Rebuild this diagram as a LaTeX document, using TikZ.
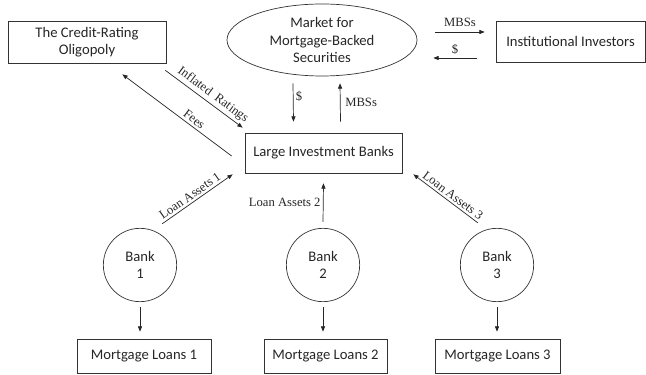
\documentclass[tikz,border=0pt]{standalone}
\usepackage{fontspec}
\setmainfont{Liberation Serif}
\newfontfamily\boxfont{Carlito}
\usetikzlibrary{shapes.geometric,arrows.meta}

\begin{document}
\begin{tikzpicture}[x=0.03cm, y=-0.03cm,
    every node/.style={text=black!85},
    box/.style={draw=black!80, line width=0.6pt, align=center,
        font=\boxfont\fontsize{12.5}{15}\selectfont, inner sep=0pt},
    arr/.style={-{Triangle[length=4.5pt,width=3.5pt]}, draw=black!85, line width=0.6pt},
    lbl/.style={font=\fontsize{10.8}{12}\selectfont, inner sep=2pt}]

    \useasboundingbox (0,0) rectangle (646,375);

    \node[box, minimum width=4.74cm, minimum height=1.26cm] (cra) at (87,42)
        {The Credit-Rating\\Oligopoly};

    \node[box, ellipse, minimum width=5.7cm, minimum height=2.16cm] (mkt) at (322,40)
        {Market for\\Mortgage-Backed\\Securities};

    \node[box, minimum width=4.47cm, minimum height=1.23cm] (inv) at (570.5,41.5)
        {Institutional Investors};

    \node[box, minimum width=4.71cm, minimum height=1.2cm] (lib) at (323.5,153)
        {Large Investment Banks};

    \node[box, circle, minimum size=2.2cm] (b1) at (140,265)
        {Bank\\1};

    \node[box, circle, minimum size=2.2cm] (b2) at (323,265)
        {Bank\\2};

    \node[box, circle, minimum size=2.2cm] (b3) at (497,265)
        {Bank\\3};

    \node[box, minimum width=4.02cm, minimum height=1.02cm] (ml1) at (144,356)
        {Mortgage Loans 1};

    \node[box, minimum width=3.69cm, minimum height=1.02cm] (ml2) at (325.5,356)
        {Mortgage Loans 2};

    \node[box, minimum width=3.75cm, minimum height=1.02cm] (ml3) at (497.5,356)
        {Mortgage Loans 3};

    \draw[arr] ([shift={(-1,7)}]cra.south east) -- ([shift={(-2,-5)}]lib.north west)
        node[lbl, pos=0.55, sloped, above] {Inflated\ \ Ratings};
    \draw[arr] ([shift={(-13,3)}]lib.west) -- ([shift={(-44,11)}]cra.south east)
        node[lbl, pos=0.38, sloped, above] {Fees};

    \draw[arr] ([shift={(-29,7)}]mkt.south) -- ([shift={(-30,-11)}]lib.north)
        node[lbl, pos=0.35, right] {\$};
    \draw[arr] ([shift={(17,-11)}]lib.north) -- ([shift={(18,7)}]mkt.south)
        node[lbl, midway, right, xshift=2pt] {MBSs};

    \draw[arr] ([shift={(18,-8)}]mkt.east) -- ([shift={(-11,-9.5)}]inv.west)
        node[lbl, midway, above, yshift=2pt] {MBSs};
    \draw[arr] ([shift={(-19,16.5)}]inv.west) -- ([shift={(16,18)}]mkt.east)
        node[lbl, midway, above, yshift=1pt] {\$};

    \draw[arr] ([shift={(-4,-15)}]b1.north east) -- ([shift={(-12,1)}]lib.south west)
        node[lbl, pos=0.45, sloped, above] {Loan Assets 1};
    \draw[arr] ([shift={(0,-6)}]b2.north) -- ([shift={(0,10)}]lib.south)
        node[lbl, midway, left] {Loan Assets 2};
    \draw[arr] ([shift={(7,-16)}]b3.north west) -- ([shift={(11,1)}]lib.south east)
        node[lbl, pos=0.45, sloped, above] {Loan Assets 3};

    \draw[arr, shorten <=4.3pt, shorten >=6pt] (b1) -- (b1 |- ml1.north);
    \draw[arr, shorten <=4.3pt, shorten >=6pt] (b2) -- (b2 |- ml2.north);
    \draw[arr, shorten <=4.3pt, shorten >=6pt] (b3) -- (b3 |- ml3.north);

\end{tikzpicture}
\end{document}
